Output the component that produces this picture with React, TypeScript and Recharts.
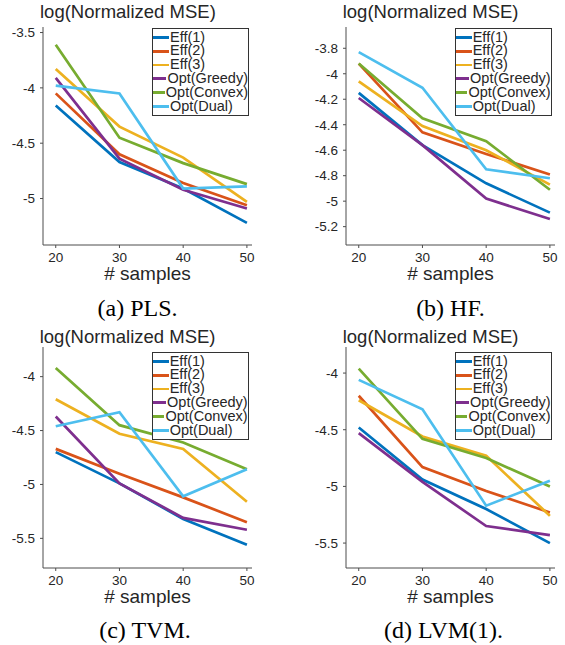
import React from 'react'
import { LineChart, Line, XAxis, YAxis, Label } from 'recharts'

const samples = [20, 30, 40, 50]
const xTicks = [20, 30, 40, 50]
const seriesNames = ['Eff(1)', 'Eff(2)', 'Eff(3)', 'Opt(Greedy)', 'Opt(Convex)', 'Opt(Dual)']
const seriesColors = ['#0072BD', '#D95319', '#EDB120', '#7E2F8E', '#77AC30', '#4DBEEE']

// log(normalized MSE), one row per series, columns follow `samples`
const plsValues = [
    [-4.16, -4.67, -4.91, -5.22],
    [-4.05, -4.60, -4.86, -5.06],
    [-3.83, -4.35, -4.63, -5.03],
    [-3.91, -4.64, -4.92, -5.09],
    [-3.61, -4.45, -4.68, -4.87],
    [-3.98, -4.05, -4.91, -4.89],
]
const hfValues = [
    [-4.15, -4.56, -4.86, -5.09],
    [-3.92, -4.46, -4.63, -4.79],
    [-4.06, -4.41, -4.60, -4.87],
    [-4.19, -4.56, -4.98, -5.14],
    [-3.92, -4.35, -4.53, -4.91],
    [-3.83, -4.11, -4.75, -4.82],
]
const tvmValues = [
    [-4.70, -4.99, -5.32, -5.56],
    [-4.67, -4.90, -5.12, -5.35],
    [-4.21, -4.53, -4.67, -5.16],
    [-4.37, -4.99, -5.31, -5.42],
    [-3.92, -4.45, -4.61, -4.86],
    [-4.46, -4.33, -5.11, -4.86],
]
const lvmValues = [
    [-4.48, -4.94, -5.20, -5.50],
    [-4.20, -4.83, -5.04, -5.23],
    [-4.24, -4.56, -4.73, -5.26],
    [-4.53, -4.96, -5.35, -5.43],
    [-3.96, -4.58, -4.75, -5.00],
    [-4.06, -4.32, -5.17, -4.95],
]

const plsTicks = [-5, -4.5, -4, -3.5]
const hfTicks = [-5.2, -5, -4.8, -4.6, -4.4, -4.2, -4, -3.8]
const tvmTicks = [-5.5, -5, -4.5, -4]
const lvmTicks = [-5.5, -5, -4.5, -4]

const sans = '"Liberation Sans", Arial, Helvetica, sans-serif'
const serif = '"Liberation Serif", "Times New Roman", serif'
const axisColor = '#4d4d4d'
const textColor = '#262626'

const PLOT_W = 209
const Y_AXIS_W = 43

interface PanelProps {
    values: number[][]
    ticks: number[]
    domain: [number, number]
    plotLeft: number
    plotTop: number
    plotHeight: number
    titleBase: number
    caption: string
    captionX: number
    captionBase: number
    legendOffset: number
}

function Panel({
    values,
    ticks,
    domain,
    plotLeft,
    plotTop,
    plotHeight,
    titleBase,
    caption,
    captionX,
    captionBase,
    legendOffset
}: PanelProps) {
    const data = samples.map((n, i) => {
        const row: any = { n }
        values.forEach((s, k) => { row['s' + k] = s[i] })
        return row
    })

    return (
        <>
            <div style={{
                position: 'absolute', left: plotLeft - 3, top: titleBase - 15.7,
                fontFamily: sans, fontSize: 18.5, lineHeight: 1, color: textColor, whiteSpace: 'nowrap'
            }}>
                log(Normalized MSE)
            </div>
            <div style={{ position: 'absolute', left: plotLeft - Y_AXIS_W, top: plotTop - 5 }}>
                <LineChart
                    width={Y_AXIS_W + PLOT_W + 8}
                    height={5 + plotHeight + 36 + 4}
                    data={data}
                    margin={{ top: 5, right: 8, bottom: 4, left: 0 }}
                >
                    <XAxis
                        dataKey="n"
                        type="number"
                        domain={[18, 50.8]}
                        ticks={xTicks}
                        allowDataOverflow
                        height={36}
                        tickSize={3}
                        tickMargin={4}
                        axisLine={{ stroke: axisColor }}
                        tickLine={{ stroke: axisColor }}
                        tick={{ fontSize: 13.5, fill: textColor, fontFamily: sans }}
                    >
                        <Label
                            value="# samples"
                            position="insideBottom"
                            offset={1}
                            style={{ fontSize: 19, fill: textColor, fontFamily: sans }}
                        />
                    </XAxis>
                    <YAxis
                        type="number"
                        domain={domain}
                        ticks={ticks}
                        allowDataOverflow
                        width={Y_AXIS_W}
                        tickSize={3}
                        tickMargin={5}
                        axisLine={{ stroke: axisColor }}
                        tickLine={{ stroke: axisColor }}
                        tick={{ fontSize: 13.5, fill: textColor, fontFamily: sans }}
                    />
                    {seriesNames.map((name, k) => (
                        <Line
                            key={name}
                            dataKey={'s' + k}
                            name={name}
                            type="linear"
                            stroke={seriesColors[k]}
                            strokeWidth={2.7}
                            dot={false}
                            activeDot={false}
                            isAnimationActive={false}
                        />
                    ))}
                </LineChart>
            </div>
            <div style={{
                position: 'absolute', left: plotLeft + 109, top: plotTop + legendOffset,
                width: 97, height: 88, boxSizing: 'border-box', border: '1px solid #333',
                background: '#fff', paddingTop: 1.5
            }}>
                {seriesNames.map((name, k) => (
                    <div key={name} style={{ display: 'flex', alignItems: 'center', height: 13.8 }}>
                        <div style={{ width: 16, height: 2.7, background: seriesColors[k] }} />
                        <span style={{
                            fontFamily: sans, fontSize: 14.5, lineHeight: '13.5px', color: textColor,
                            marginLeft: 1, whiteSpace: 'nowrap'
                        }}>
                            {name}
                        </span>
                    </div>
                ))}
            </div>
            <div style={{
                position: 'absolute', left: captionX - 100, width: 200, top: captionBase - 20.1,
                textAlign: 'center', fontFamily: serif, fontSize: 24, lineHeight: 1, color: '#000'
            }}>
                {caption}
            </div>
        </>
    )
}

export default function App() {
    return (
        <div style={{ position: 'absolute', left: 0, top: 0, width: 565, height: 645, background: '#fff', overflow: 'hidden' }}>
            <Panel
                values={plsValues} ticks={plsTicks} domain={[-5.42, -3.45]}
                plotLeft={43} plotTop={27} plotHeight={218}
                titleBase={18.5} caption="(a) PLS." captionX={137.5} captionBase={316.5} legendOffset={1}
            />
            <Panel
                values={hfValues} ticks={hfTicks} domain={[-5.344, -3.633]}
                plotLeft={345.7} plotTop={27} plotHeight={218}
                titleBase={18.5} caption="(b) HF." captionX={450.5} captionBase={316.5} legendOffset={1}
            />
            <Panel
                values={tvmValues} ticks={tvmTicks} domain={[-5.775, -3.725]}
                plotLeft={42.7} plotTop={347} plotHeight={221}
                titleBase={344} caption="(c) TVM." captionX={145} captionBase={638} legendOffset={5}
            />
            <Panel
                values={lvmValues} ticks={lvmTicks} domain={[-5.72, -3.77]}
                plotLeft={345.7} plotTop={347} plotHeight={221}
                titleBase={344} caption="(d) LVM(1)." captionX={443.5} captionBase={638} legendOffset={5}
            />
        </div>
    )
}
